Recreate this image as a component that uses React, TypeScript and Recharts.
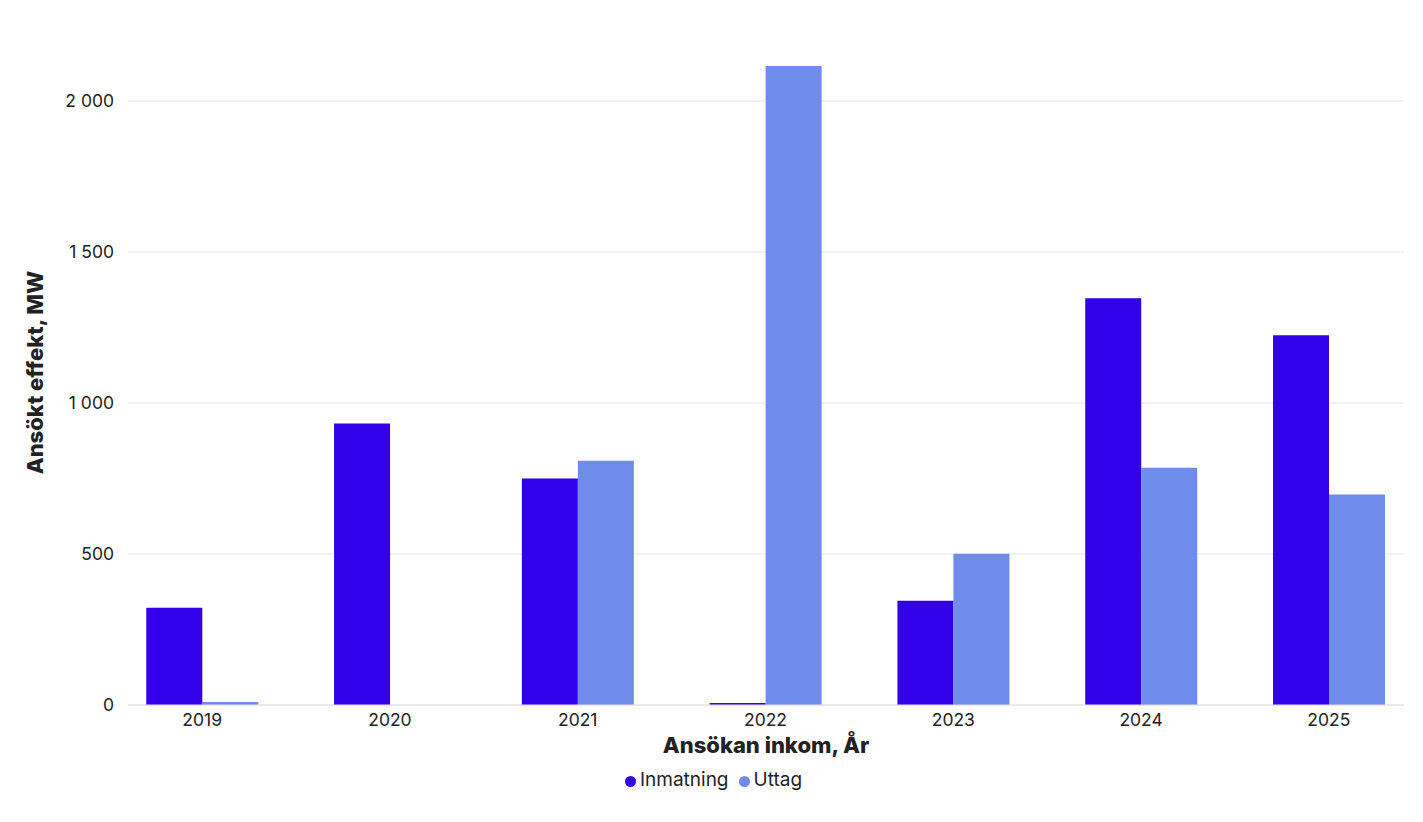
import React from 'react';
import { BarChart, Bar, XAxis, YAxis, CartesianGrid, Legend } from 'recharts';

const years = ['2019', '2020', '2021', '2022', '2023', '2024', '2025'];
const inmatning = [322, 932, 750, 7, 345, 1347, 1224];
const uttag = [10, 0, 809, 2116, 501, 786, 697];
const yTicks = [0, 500, 1000, 1500, 2000];

const COLORS = { Inmatning: '#3300EA', Uttag: '#708CEA' };
const FONT = 'Inter, "Noto Sans", sans-serif';

const data = years.map((year, i) => ({
  idx: i,
  year,
  Inmatning: inmatning[i],
  Uttag: uttag[i],
}));

const formatThousands = (v: number) =>
  String(v).replace(/\B(?=(\d{3})+(?!\d))/g, ' ');

const YLabel = (props: any) => {
  const vb = props.viewBox || {};
  const cx = (vb.x || 0) + 35;
  const cy = (vb.y || 0) + (vb.height || 0) / 2 - 13;
  return (
    <text
      x={cx}
      y={cy}
      transform={`rotate(-90, ${cx}, ${cy})`}
      textAnchor="middle"
      dominantBaseline="central"
      fontFamily={FONT}
      fontWeight={800}
      fontSize={22}
      fill="#222"
    >
      Ansökt effekt, MW
    </text>
  );
};

const App: React.FC = () => {
  return (
    <div style={{ position: 'absolute', left: 0, top: 0, fontFamily: FONT }}>
      <BarChart
        width={1423}
        height={822}
        data={data}
        margin={{ top: 66, right: 19, left: 0, bottom: 32 }}
        barGap={0}
      >
        <CartesianGrid vertical={false} stroke="#e6e6e6" horizontalValues={yTicks} />
        <XAxis
          dataKey="idx"
          type="number"
          domain={[-0.395, 6.4]}
          ticks={years.map((_, i) => i)}
          tickFormatter={(v: number) => years[v]}
          axisLine={{ stroke: '#e0e0e0' }}
          tickLine={false}
          tickSize={0}
          tickMargin={9}
          height={65}
          tick={{ fill: '#222', fontSize: 17.5, fontFamily: FONT }}
          label={{
            value: 'Ansökan inkom, År',
            position: 'insideBottom',
            offset: 17,
            fill: '#222',
            fontSize: 22,
            fontWeight: 800,
            fontFamily: FONT,
          }}
        />
        <YAxis
          width={128}
          domain={[0, 'dataMax']}
          ticks={yTicks}
          tickFormatter={formatThousands}
          axisLine={false}
          tickLine={false}
          tickSize={0}
          tickMargin={14}
          tick={{ fill: '#222', fontSize: 17.5, fontFamily: FONT }}
          label={{ content: YLabel }}
        />
        <Legend
          verticalAlign="bottom"
          iconType="circle"
          iconSize={11}
          wrapperStyle={{ lineHeight: '20px', left: 7, width: 1423 }}
          formatter={(value: string) => (
            <span style={{ color: '#222', fontSize: 19, fontFamily: FONT }}>{value}</span>
          )}
        />
        <Bar dataKey="Inmatning" fill={COLORS.Inmatning} barSize={56} isAnimationActive={false} />
        <Bar dataKey="Uttag" fill={COLORS.Uttag} barSize={56} isAnimationActive={false} />
      </BarChart>
    </div>
  );
};

export default App;
